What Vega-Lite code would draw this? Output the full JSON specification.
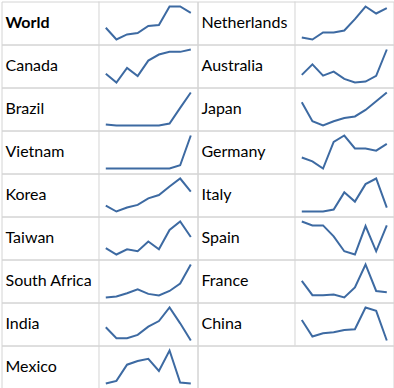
{
  "$schema": "https://vega.github.io/schema/vega-lite/v6.json",
  "padding": {"left": 0.5, "top": 0.5, "right": 0, "bottom": 0},
  "background": "white",
  "bounds": "flush",
  "data": {"values": [
    {"country":"World","side":"L","row":1,"t":0,"v":50},{"country":"World","side":"L","row":1,"t":1,"v":15},{"country":"World","side":"L","row":1,"t":2,"v":30},{"country":"World","side":"L","row":1,"t":3,"v":34},{"country":"World","side":"L","row":1,"t":4,"v":55},{"country":"World","side":"L","row":1,"t":5,"v":58},{"country":"World","side":"L","row":1,"t":6,"v":113},{"country":"World","side":"L","row":1,"t":7,"v":113},{"country":"World","side":"L","row":1,"t":8,"v":94},
    {"country":"Canada","side":"L","row":2,"t":0,"v":43},{"country":"Canada","side":"L","row":2,"t":1,"v":17},{"country":"Canada","side":"L","row":2,"t":2,"v":60},{"country":"Canada","side":"L","row":2,"t":3,"v":36},{"country":"Canada","side":"L","row":2,"t":4,"v":82},{"country":"Canada","side":"L","row":2,"t":5,"v":100},{"country":"Canada","side":"L","row":2,"t":6,"v":108},{"country":"Canada","side":"L","row":2,"t":7,"v":108},{"country":"Canada","side":"L","row":2,"t":8,"v":115},
    {"country":"Brazil","side":"L","row":3,"t":0,"v":19},{"country":"Brazil","side":"L","row":3,"t":1,"v":16},{"country":"Brazil","side":"L","row":3,"t":2,"v":16},{"country":"Brazil","side":"L","row":3,"t":3,"v":16},{"country":"Brazil","side":"L","row":3,"t":4,"v":16},{"country":"Brazil","side":"L","row":3,"t":5,"v":16},{"country":"Brazil","side":"L","row":3,"t":6,"v":22},{"country":"Brazil","side":"L","row":3,"t":7,"v":70},{"country":"Brazil","side":"L","row":3,"t":8,"v":117},
    {"country":"Vietnam","side":"L","row":4,"t":0,"v":10},{"country":"Vietnam","side":"L","row":4,"t":1,"v":10},{"country":"Vietnam","side":"L","row":4,"t":2,"v":10},{"country":"Vietnam","side":"L","row":4,"t":3,"v":10},{"country":"Vietnam","side":"L","row":4,"t":4,"v":10},{"country":"Vietnam","side":"L","row":4,"t":5,"v":10},{"country":"Vietnam","side":"L","row":4,"t":6,"v":10},{"country":"Vietnam","side":"L","row":4,"t":7,"v":20},{"country":"Vietnam","side":"L","row":4,"t":8,"v":112},
    {"country":"Korea","side":"L","row":5,"t":0,"v":30},{"country":"Korea","side":"L","row":5,"t":1,"v":12},{"country":"Korea","side":"L","row":5,"t":2,"v":24},{"country":"Korea","side":"L","row":5,"t":3,"v":32},{"country":"Korea","side":"L","row":5,"t":4,"v":52},{"country":"Korea","side":"L","row":5,"t":5,"v":62},{"country":"Korea","side":"L","row":5,"t":6,"v":88},{"country":"Korea","side":"L","row":5,"t":7,"v":112},{"country":"Korea","side":"L","row":5,"t":8,"v":72},
    {"country":"Taiwan","side":"L","row":6,"t":0,"v":32},{"country":"Taiwan","side":"L","row":6,"t":1,"v":12},{"country":"Taiwan","side":"L","row":6,"t":2,"v":28},{"country":"Taiwan","side":"L","row":6,"t":3,"v":22},{"country":"Taiwan","side":"L","row":6,"t":4,"v":52},{"country":"Taiwan","side":"L","row":6,"t":5,"v":28},{"country":"Taiwan","side":"L","row":6,"t":6,"v":88},{"country":"Taiwan","side":"L","row":6,"t":7,"v":114},{"country":"Taiwan","side":"L","row":6,"t":8,"v":66},
    {"country":"South Africa","side":"L","row":7,"t":0,"v":10},{"country":"South Africa","side":"L","row":7,"t":1,"v":13},{"country":"South Africa","side":"L","row":7,"t":2,"v":23},{"country":"South Africa","side":"L","row":7,"t":3,"v":35},{"country":"South Africa","side":"L","row":7,"t":4,"v":21},{"country":"South Africa","side":"L","row":7,"t":5,"v":16},{"country":"South Africa","side":"L","row":7,"t":6,"v":30},{"country":"South Africa","side":"L","row":7,"t":7,"v":53},{"country":"South Africa","side":"L","row":7,"t":8,"v":111},
    {"country":"India","side":"L","row":8,"t":0,"v":53},{"country":"India","side":"L","row":8,"t":1,"v":20},{"country":"India","side":"L","row":8,"t":2,"v":20},{"country":"India","side":"L","row":8,"t":3,"v":30},{"country":"India","side":"L","row":8,"t":4,"v":55},{"country":"India","side":"L","row":8,"t":5,"v":72},{"country":"India","side":"L","row":8,"t":6,"v":113},{"country":"India","side":"L","row":8,"t":7,"v":65},{"country":"India","side":"L","row":8,"t":8,"v":13},
    {"country":"Mexico","side":"L","row":9,"t":0,"v":15},{"country":"Mexico","side":"L","row":9,"t":1,"v":23},{"country":"Mexico","side":"L","row":9,"t":2,"v":72},{"country":"Mexico","side":"L","row":9,"t":3,"v":83},{"country":"Mexico","side":"L","row":9,"t":4,"v":90},{"country":"Mexico","side":"L","row":9,"t":5,"v":53},{"country":"Mexico","side":"L","row":9,"t":6,"v":115},{"country":"Mexico","side":"L","row":9,"t":7,"v":18},{"country":"Mexico","side":"L","row":9,"t":8,"v":15},
    {"country":"Netherlands","side":"R","row":1,"t":0,"v":20},{"country":"Netherlands","side":"R","row":1,"t":1,"v":14},{"country":"Netherlands","side":"R","row":1,"t":2,"v":35},{"country":"Netherlands","side":"R","row":1,"t":3,"v":35},{"country":"Netherlands","side":"R","row":1,"t":4,"v":41},{"country":"Netherlands","side":"R","row":1,"t":5,"v":75},{"country":"Netherlands","side":"R","row":1,"t":6,"v":113},{"country":"Netherlands","side":"R","row":1,"t":7,"v":92},{"country":"Netherlands","side":"R","row":1,"t":8,"v":108},
    {"country":"Australia","side":"R","row":2,"t":0,"v":38},{"country":"Australia","side":"R","row":2,"t":1,"v":70},{"country":"Australia","side":"R","row":2,"t":2,"v":36},{"country":"Australia","side":"R","row":2,"t":3,"v":48},{"country":"Australia","side":"R","row":2,"t":4,"v":26},{"country":"Australia","side":"R","row":2,"t":5,"v":15},{"country":"Australia","side":"R","row":2,"t":6,"v":18},{"country":"Australia","side":"R","row":2,"t":7,"v":35},{"country":"Australia","side":"R","row":2,"t":8,"v":115},
    {"country":"Japan","side":"R","row":3,"t":0,"v":87},{"country":"Japan","side":"R","row":3,"t":1,"v":28},{"country":"Japan","side":"R","row":3,"t":2,"v":15},{"country":"Japan","side":"R","row":3,"t":3,"v":28},{"country":"Japan","side":"R","row":3,"t":4,"v":38},{"country":"Japan","side":"R","row":3,"t":5,"v":43},{"country":"Japan","side":"R","row":3,"t":6,"v":63},{"country":"Japan","side":"R","row":3,"t":7,"v":90},{"country":"Japan","side":"R","row":3,"t":8,"v":117},
    {"country":"Germany","side":"R","row":4,"t":0,"v":44},{"country":"Germany","side":"R","row":4,"t":1,"v":32},{"country":"Germany","side":"R","row":4,"t":2,"v":10},{"country":"Germany","side":"R","row":4,"t":3,"v":92},{"country":"Germany","side":"R","row":4,"t":4,"v":112},{"country":"Germany","side":"R","row":4,"t":5,"v":72},{"country":"Germany","side":"R","row":4,"t":6,"v":72},{"country":"Germany","side":"R","row":4,"t":7,"v":65},{"country":"Germany","side":"R","row":4,"t":8,"v":86},
    {"country":"Italy","side":"R","row":5,"t":0,"v":12},{"country":"Italy","side":"R","row":5,"t":1,"v":12},{"country":"Italy","side":"R","row":5,"t":2,"v":12},{"country":"Italy","side":"R","row":5,"t":3,"v":18},{"country":"Italy","side":"R","row":5,"t":4,"v":70},{"country":"Italy","side":"R","row":5,"t":5,"v":42},{"country":"Italy","side":"R","row":5,"t":6,"v":95},{"country":"Italy","side":"R","row":5,"t":7,"v":112},{"country":"Italy","side":"R","row":5,"t":8,"v":24},
    {"country":"Spain","side":"R","row":6,"t":0,"v":114},{"country":"Spain","side":"R","row":6,"t":1,"v":102},{"country":"Spain","side":"R","row":6,"t":2,"v":102},{"country":"Spain","side":"R","row":6,"t":3,"v":68},{"country":"Spain","side":"R","row":6,"t":4,"v":22},{"country":"Spain","side":"R","row":6,"t":5,"v":12},{"country":"Spain","side":"R","row":6,"t":6,"v":100},{"country":"Spain","side":"R","row":6,"t":7,"v":22},{"country":"Spain","side":"R","row":6,"t":8,"v":102},
    {"country":"France","side":"R","row":7,"t":0,"v":61},{"country":"France","side":"R","row":7,"t":1,"v":17},{"country":"France","side":"R","row":7,"t":2,"v":17},{"country":"France","side":"R","row":7,"t":3,"v":19},{"country":"France","side":"R","row":7,"t":4,"v":10},{"country":"France","side":"R","row":7,"t":5,"v":41},{"country":"France","side":"R","row":7,"t":6,"v":111},{"country":"France","side":"R","row":7,"t":7,"v":30},{"country":"France","side":"R","row":7,"t":8,"v":26},
    {"country":"China","side":"R","row":8,"t":0,"v":75},{"country":"China","side":"R","row":8,"t":1,"v":25},{"country":"China","side":"R","row":8,"t":2,"v":35},{"country":"China","side":"R","row":8,"t":3,"v":38},{"country":"China","side":"R","row":8,"t":4,"v":45},{"country":"China","side":"R","row":8,"t":5,"v":47},{"country":"China","side":"R","row":8,"t":6,"v":113},{"country":"China","side":"R","row":8,"t":7,"v":103},{"country":"China","side":"R","row":8,"t":8,"v":13},
    {"country":"","side":"R","row":9,"t":0,"v":null}
  ]},
  "facet": {
    "row": {"field": "row", "type": "ordinal", "header": null},
    "column": {"field": "side", "type": "nominal", "header": null}
  },
  "spacing": {"row": 0, "column": 0},
  "spec": {
    "width": 196,
    "height": 43,
    "layer": [
      {
        "transform": [{"filter": "datum.country != '' && datum.t == 0"}],
        "mark": {"type": "rule", "color": "#D4D4D4", "strokeWidth": 1},
        "encoding": {
          "x": {"datum": -0.64, "type": "quantitative", "scale": {"domain": [-9.816, 8.631], "nice": false, "zero": false}, "axis": null}
        }
      },
      {
        "mark": {"type": "line", "color": "#3D6AA2", "strokeWidth": 2},
        "encoding": {
          "x": {"field": "t", "type": "quantitative", "scale": {"domain": [-9.816, 8.631], "nice": false, "zero": false}, "axis": null},
          "y": {"field": "v", "type": "quantitative", "scale": {"zero": false, "nice": false, "range": [38, 5]}, "axis": null}
        }
      },
      {
        "transform": [{"filter": "datum.t == 0 && datum.country != 'World'"}],
        "mark": {"type": "text", "align": "left", "baseline": "middle", "font": "Lato", "fontSize": 16, "color": "black"},
        "encoding": {
          "x": {"datum": -9.44, "type": "quantitative", "scale": {"domain": [-9.816, 8.631], "nice": false, "zero": false}, "axis": null},
          "text": {"field": "country"}
        }
      },
      {
        "transform": [{"filter": "datum.t == 0 && datum.country == 'World'"}],
        "mark": {"type": "text", "align": "left", "baseline": "middle", "font": "Lato", "fontSize": 16, "fontWeight": "bold", "color": "black"},
        "encoding": {
          "x": {"datum": -9.44, "type": "quantitative", "scale": {"domain": [-9.816, 8.631], "nice": false, "zero": false}, "axis": null},
          "text": {"field": "country"}
        }
      }
    ]
  },
  "resolve": {"scale": {"y": "independent"}},
  "config": {
    "view": {"stroke": "#D4D4D4", "strokeWidth": 1}
  }
}
